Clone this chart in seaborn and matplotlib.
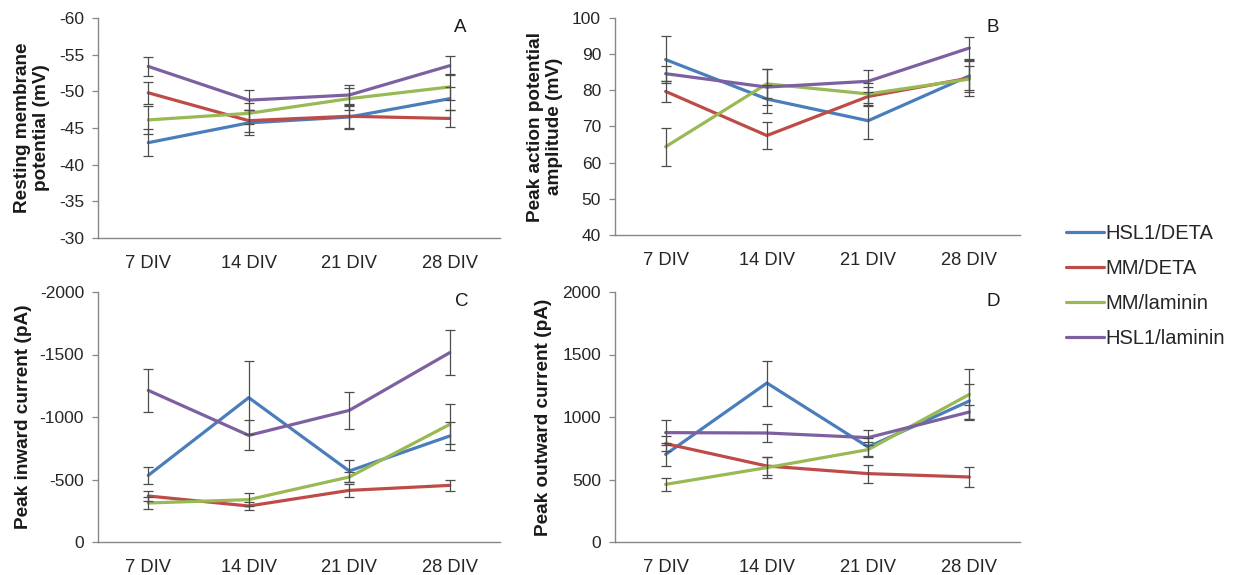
import numpy as np
import pandas as pd
import matplotlib
matplotlib.use("Agg")
import matplotlib.pyplot as plt
import seaborn as sns
from matplotlib.lines import Line2D

sns.set_theme(style="white")
plt.rcParams["font.family"] = ["Liberation Sans", "DejaVu Sans"]
plt.rcParams["axes.unicode_minus"] = False

days = ["7 DIV", "14 DIV", "21 DIV", "28 DIV"]
groups = ["HSL1/DETA", "MM/DETA", "MM/laminin", "HSL1/laminin"]
colors = ["#4A7EBB", "#BE4B48", "#98B954", "#7D60A0"]

# Resting membrane potential (mV)
rmp_hsl1_deta = [-43.0, -45.7, -46.5, -49.0]
rmp_mm_deta = [-49.8, -46.0, -46.6, -46.3]
rmp_mm_lam = [-46.1, -47.0, -49.0, -50.6]
rmp_hsl1_lam = [-53.4, -48.8, -49.5, -53.5]
rmp_err_hsl1_deta = [1.8, 1.7, 1.5, 1.6]
rmp_err_mm_deta = [1.5, 1.5, 1.7, 1.1]
rmp_err_mm_lam = [1.9, 1.4, 1.5, 1.8]
rmp_err_hsl1_lam = [1.3, 1.4, 1.4, 1.3]

# Peak action potential amplitude (mV)
ap_hsl1_deta = [88.5, 77.6, 71.6, 84.0]
ap_mm_deta = [79.7, 67.5, 78.3, 83.4]
ap_mm_lam = [64.4, 81.8, 79.0, 83.1]
ap_hsl1_lam = [84.6, 80.9, 82.5, 91.7]
ap_err_hsl1_deta = [6.6, 4.0, 5.0, 4.0]
ap_err_mm_deta = [2.8, 3.8, 2.5, 5.0]
ap_err_mm_lam = [5.3, 4.0, 3.0, 3.5]
ap_err_hsl1_lam = [2.0, 5.0, 3.0, 3.0]

# Peak inward current (pA)
in_hsl1_deta = [-533, -1155, -568, -848]
in_mm_deta = [-368, -288, -413, -453]
in_mm_lam = [-312, -339, -520, -941]
in_hsl1_lam = [-1213, -853, -1053, -1515]
in_err_hsl1_deta = [67, 290, 85, 110]
in_err_mm_deta = [40, 30, 50, 45]
in_err_mm_lam = [45, 50, 40, 160]
in_err_hsl1_lam = [170, 120, 150, 180]

# Peak outward current (pA)
out_hsl1_deta = [701, 1272, 760, 1128]
out_mm_deta = [787, 608, 547, 520]
out_mm_lam = [461, 595, 739, 1181]
out_hsl1_lam = [875, 872, 835, 1040]
out_err_hsl1_deta = [90, 180, 70, 140]
out_err_mm_deta = [60, 75, 72, 80]
out_err_mm_lam = [55, 85, 60, 200]
out_err_hsl1_lam = [100, 75, 60, 60]

panels = [
    dict(letter="A", ylabel="Resting membrane\npotential (mV)",
         values=[rmp_hsl1_deta, rmp_mm_deta, rmp_mm_lam, rmp_hsl1_lam],
         errors=[rmp_err_hsl1_deta, rmp_err_mm_deta, rmp_err_mm_lam, rmp_err_hsl1_lam],
         ylim=(-30, -60), ticks=np.arange(-60, -29, 5),
         rect=(98, 18, 500, 238), label_x=-0.119, letter_x=0.902),
    dict(letter="B", ylabel="Peak action potential\namplitude (mV)",
         values=[ap_hsl1_deta, ap_mm_deta, ap_mm_lam, ap_hsl1_lam],
         errors=[ap_err_hsl1_deta, ap_err_mm_deta, ap_err_mm_lam, ap_err_hsl1_lam],
         ylim=(40, 100), ticks=np.arange(40, 101, 10),
         rect=(615, 18, 1020, 235), label_x=-0.128, letter_x=0.933),
    dict(letter="C", ylabel="Peak inward current (pA)",
         values=[in_hsl1_deta, in_mm_deta, in_mm_lam, in_hsl1_lam],
         errors=[in_err_hsl1_deta, in_err_mm_deta, in_err_mm_lam, in_err_hsl1_lam],
         ylim=(0, -2000), ticks=np.arange(-2000, 1, 500),
         rect=(98, 292, 500, 542), label_x=-0.165, letter_x=0.905),
    dict(letter="D", ylabel="Peak outward current (pA)",
         values=[out_hsl1_deta, out_mm_deta, out_mm_lam, out_hsl1_lam],
         errors=[out_err_hsl1_deta, out_err_mm_deta, out_err_mm_lam, out_err_hsl1_lam],
         ylim=(0, 2000), ticks=np.arange(0, 2001, 500),
         rect=(615, 292, 1020, 542), label_x=-0.156, letter_x=0.933),
]

W, H = 1240, 575
fig = plt.figure(figsize=(W / 100, H / 100), dpi=100)
fig.patch.set_facecolor("white")

spine_color = "#878787"
err_color = "#4d4d4d"
text_color = "#262626"

for p in panels:
    x0, y0, x1, y1 = p["rect"]
    ax = fig.add_axes([x0 / W, (H - y1) / H, (x1 - x0) / W, (y1 - y0) / H])
    rows = []
    for g, vals in zip(groups, p["values"]):
        for i, v in enumerate(vals):
            rows.append(dict(day=i, value=v, group=g))
    df = pd.DataFrame(rows)
    sns.lineplot(data=df, x="day", y="value", hue="group", hue_order=groups,
                 palette=colors, linewidth=2.3, legend=False, ax=ax, zorder=2)
    for vals, errs in zip(p["values"], p["errors"]):
        ax.errorbar(range(len(days)), vals, yerr=errs, fmt="none",
                    ecolor=err_color, elinewidth=0.9, capsize=3.5,
                    capthick=0.9, zorder=3)
    ax.set_xlim(-0.5, 3.5)
    ax.set_ylim(*p["ylim"])
    ax.set_yticks(p["ticks"])
    ax.set_yticklabels([str(int(t)) for t in p["ticks"]])
    ax.set_xticks(range(len(days)))
    ax.set_xticklabels(days)
    ax.set_xlabel("")
    ax.set_ylabel(p["ylabel"], fontsize=13.7, fontweight="bold",
                  color="#1a1a1a", linespacing=1.15)
    ax.yaxis.set_label_coords(p["label_x"], 0.5)
    ax.tick_params(axis="y", which="both", left=True, length=4.5, width=0.9,
                   color=spine_color, labelsize=12.5, labelcolor=text_color,
                   pad=5.5)
    ax.tick_params(axis="x", bottom=False, labelsize=13.2,
                   labelcolor=text_color, pad=6.5)
    for side in ("top", "right"):
        ax.spines[side].set_visible(False)
    for side in ("left", "bottom"):
        ax.spines[side].set_color(spine_color)
        ax.spines[side].set_linewidth(1.0)
    ax.text(p["letter_x"], 0.995, p["letter"], transform=ax.transAxes,
            fontsize=13.5, color="#1a1a1a", ha="center", va="top")

handles = [Line2D([0], [0], color=c, lw=2.3) for c in colors]
fig.legend(handles, groups, loc="upper left",
           bbox_to_anchor=(1066 / W, 1 - 224 / H), frameon=False,
           fontsize=14.5, handlelength=1.9, handletextpad=0.05,
           labelspacing=0.79, borderaxespad=0, borderpad=0)

fig.savefig("out.png", dpi=100, facecolor="white")
